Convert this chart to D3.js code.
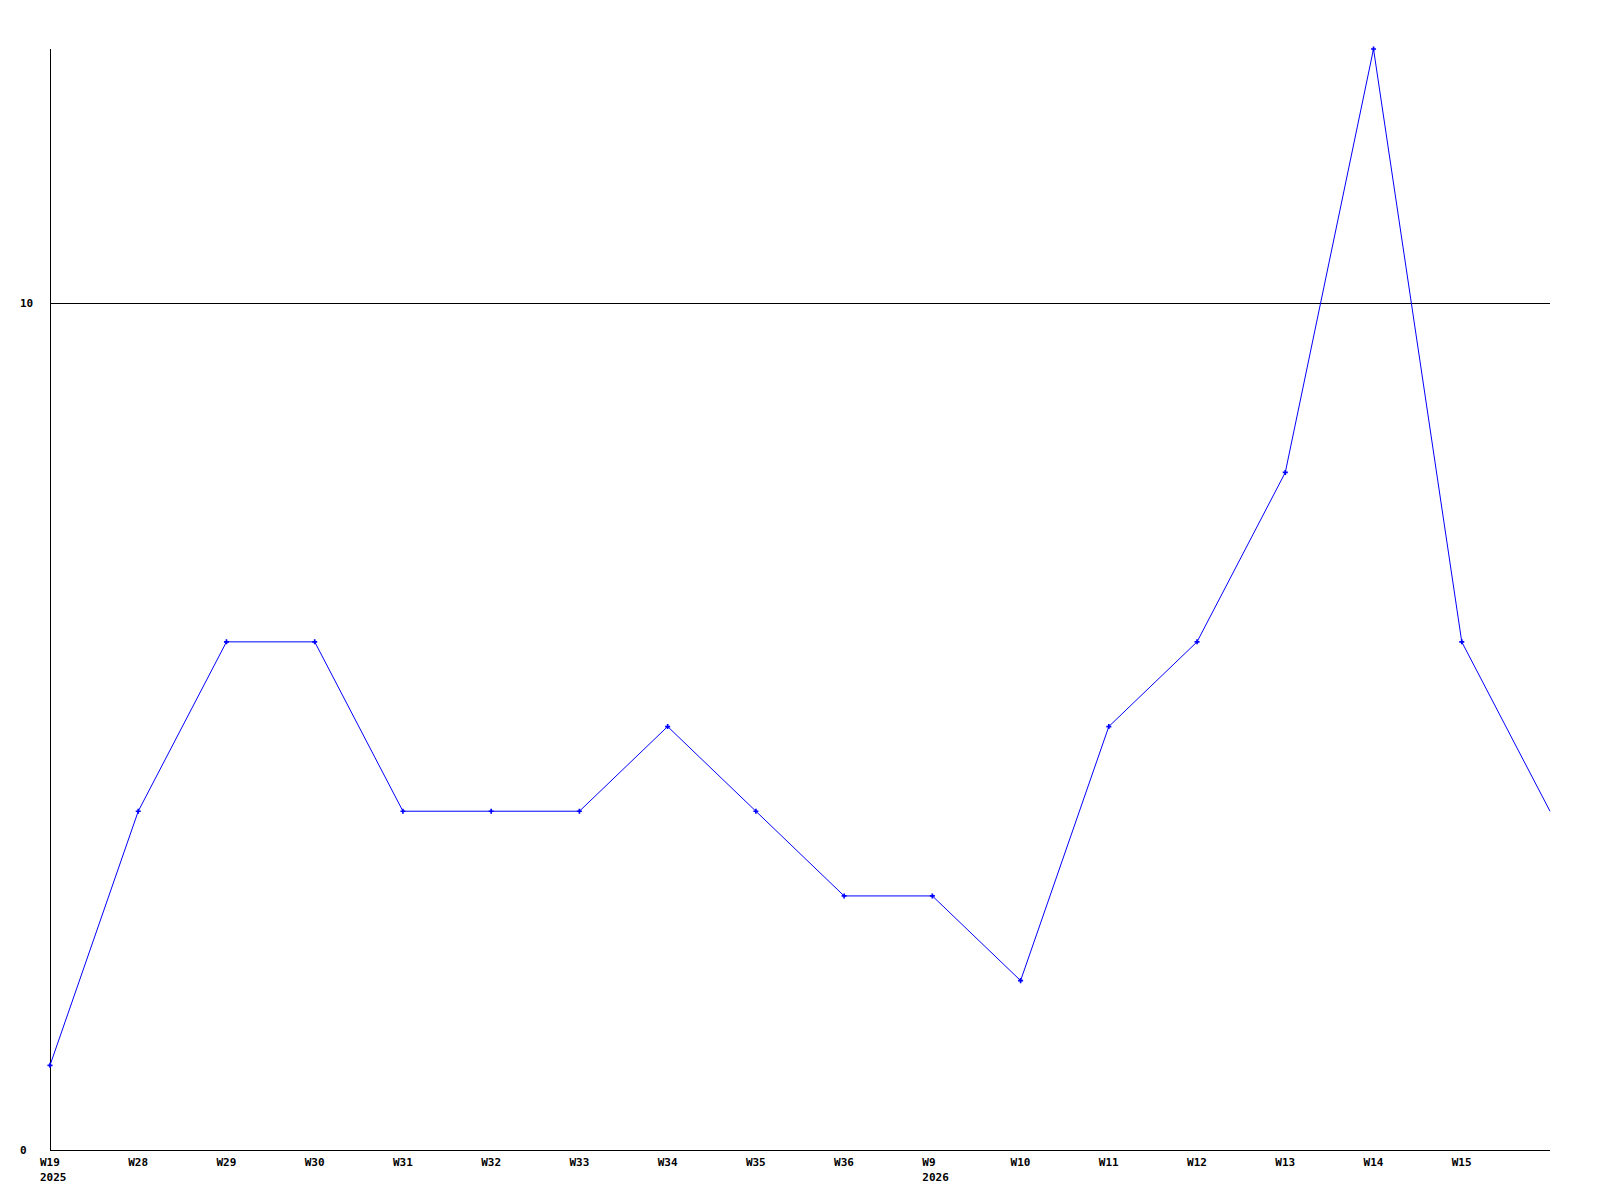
<!DOCTYPE html>
<html>
<head>
<meta charset="utf-8">
<script src="https://cdn.jsdelivr.net/npm/d3@7"></script>
<style>
  html, body { margin: 0; padding: 0; background: #fff; }
  text { font-family: "DejaVu Sans Mono", "Liberation Mono", monospace; font-weight: bold; font-size: 11px; fill: #000; }
</style>
</head>
<body>
<svg id="chart" width="1600" height="1200"></svg>
<script>
const categories = ["W19","W28","W29","W30","W31","W32","W33","W34","W35","W36","W9","W10","W11","W12","W13","W14","W15",""];
const years = {"W19": "2025", "W9": "2026"};
const values = [1,4,6,6,4,4,4,5,4,3,3,2,5,6,8,13,6,4];
const yTicks = [0, 10];
const markerShown = [true,true,true,true,true,true,true,true,true,true,true,true,true,true,true,true,true,false];

const svg = d3.select("#chart");
const mLeft = 50, mRight = 1550, mTop = 49, mBottom = 1150;

const x = d3.scalePoint().domain(d3.range(categories.length)).range([mLeft, mRight]);
const y = d3.scaleLinear().domain([0, 13]).range([mBottom, mTop]);

// horizontal grid line (non-zero ticks)
svg.selectAll("line.grid").data(yTicks.filter(d => d !== 0)).enter().append("line")
  .attr("x1", mLeft).attr("x2", mRight)
  .attr("y1", d => Math.round(y(d)) + 0.5).attr("y2", d => Math.round(y(d)) + 0.5)
  .attr("stroke", "#000").attr("stroke-width", 1);

// axes lines
svg.append("line").attr("x1", mLeft + 0.5).attr("x2", mLeft + 0.5).attr("y1", mTop).attr("y2", mBottom)
  .attr("stroke", "#000");
svg.append("line").attr("x1", mLeft).attr("x2", mRight).attr("y1", mBottom + 0.5).attr("y2", mBottom + 0.5)
  .attr("stroke", "#000");

// y tick labels
svg.selectAll("text.ylab").data(yTicks).enter().append("text")
  .attr("x", 20).attr("y", d => y(d) + 4)
  .text(d => d);

// x tick labels
const xl = svg.selectAll("g.xlab").data(categories.map((c, i) => ({c, i}))).enter().append("g");
xl.append("text").attr("x", d => x(d.i) - 10).attr("y", mBottom + 16).text(d => d.c);
xl.filter(d => years[d.c]).append("text").attr("x", d => x(d.i) - 10).attr("y", mBottom + 31).text(d => years[d.c]);

// line
const line = d3.line().x((d, i) => x(i)).y(d => y(d));
svg.append("path").datum(values).attr("d", line)
  .attr("fill", "none").attr("stroke", "#0000ff").attr("stroke-width", 1);

// markers
svg.selectAll("path.mk").data(values.map((v, i) => ({v, i})).filter(d => markerShown[d.i])).enter().append("path")
  .attr("d", d3.symbol().type(d3.symbolCross).size(14))
  .attr("transform", d => `translate(${x(d.i)},${y(d.v)})`)
  .attr("fill", "#0000ff");
</script>
</body>
</html>
